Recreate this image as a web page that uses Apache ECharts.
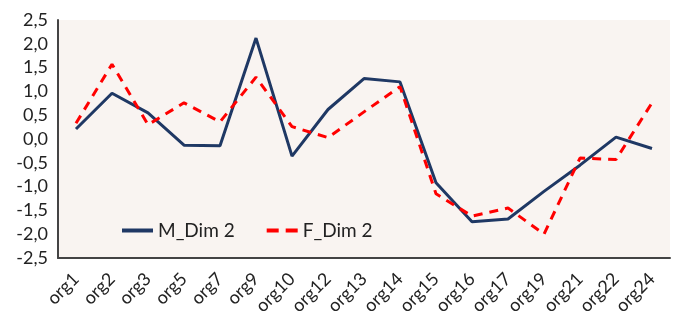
<!DOCTYPE html>
<html>
<head>
<meta charset="utf-8">
<script src="https://cdn.jsdelivr.net/npm/echarts@6/dist/echarts.min.js"></script>
<style>
  html, body { margin: 0; padding: 0; background: #fff; }
  #chart { width: 681px; height: 323px; }
</style>
</head>
<body>
<div id="chart"></div>
<script>
const categories = ['org1', 'org2', 'org3', 'org5', 'org7', 'org9', 'org10', 'org12', 'org13',
  'org14', 'org15', 'org16', 'org17', 'org19', 'org21', 'org22', 'org24']
const mDim2 = [0.21, 0.96, 0.55, -0.13, -0.14, 2.12, -0.36, 0.62, 1.27, 1.2, -0.92, -1.74, -1.68, -1.1, -0.55, 0.04, -0.2]
const fDim2 = [0.33, 1.57, 0.3, 0.76, 0.36, 1.3, 0.26, 0.03, 0.57, 1.1, -1.15, -1.62, -1.45, -2.0, -0.4, -0.43, 0.76]
const yTicks = [-2.5, -2, -1.5, -1, -0.5, 0, 0.5, 1, 1.5, 2, 2.5]

const chart = echarts.init(document.getElementById('chart'))

const fontFamily = 'Lato, "Open Sans", sans-serif'

chart.setOption({
  animation: false,
  textStyle: { fontFamily },
  grid: {
    left: 58,
    right: 11,
    top: 20,
    bottom: 65,
    show: true,
    backgroundColor: '#f9f4f1',
    borderWidth: 0
  },
  legend: {
    left: 117,
    top: 216,
    itemWidth: 31,
    itemHeight: 4,
    itemGap: 32,
    textStyle: { fontSize: 19, color: '#222', fontFamily },
    data: [
      { name: 'M_Dim 2', icon: 'path://M0,0h31v4h-31z' },
      { name: 'F_Dim 2', icon: 'path://M0,0h12v4h-12zM19,0h12v4h-12z' }
    ]
  },
  xAxis: {
    type: 'category',
    data: categories,
    boundaryGap: true,
    axisLine: { onZero: false, lineStyle: { color: '#444', width: 2 } },
    axisTick: { show: false },
    axisLabel: {
      rotate: 45,
      fontSize: 18,
      color: '#222',
      margin: 18,
      interval: 0
    }
  },
  yAxis: {
    type: 'value',
    min: -2.5,
    max: 2.5,
    interval: 0.5,
    axisLine: { show: true, lineStyle: { color: '#444', width: 2 } },
    axisTick: { show: false },
    splitLine: { show: false },
    axisLabel: {
      fontSize: 18,
      color: '#222',
      margin: 10,
      formatter: v => yTicks.includes(v) ? v.toFixed(1).replace('.', ',') : ''
    }
  },
  series: [
    {
      name: 'M_Dim 2',
      type: 'line',
      data: mDim2,
      symbol: 'none',
      lineStyle: { color: '#1f3864', width: 3 },
      itemStyle: { color: '#1f3864' }
    },
    {
      name: 'F_Dim 2',
      type: 'line',
      data: fDim2,
      symbol: 'none',
      lineStyle: { color: '#ff0000', width: 3, type: [9, 7] },
      itemStyle: { color: '#ff0000' }
    }
  ]
})

window.addEventListener('resize', () => chart.resize())
</script>
</body>
</html>
